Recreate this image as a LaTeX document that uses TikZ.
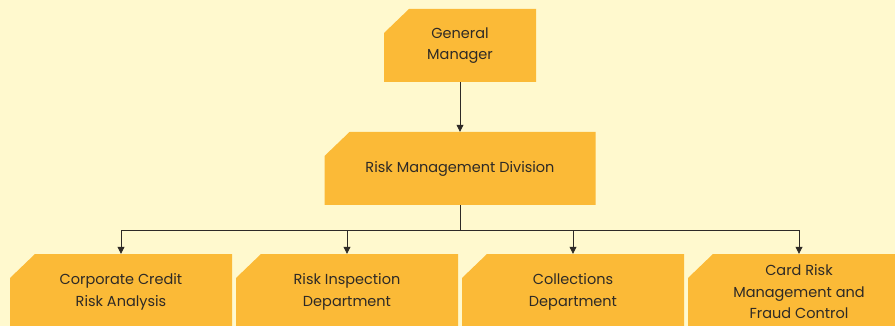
\documentclass[tikz,border=0pt]{standalone}
\usepackage{fontspec}
\setmainfont{Poppins}
\usetikzlibrary{arrows.meta}
\definecolor{bgc}{HTML}{FFF9CE}
\definecolor{boxc}{HTML}{FBBA37}
\definecolor{txtc}{HTML}{2E2A26}
\definecolor{linec}{HTML}{2E2A26}
\tikzset{
  cutbox/.style={minimum width=#1, minimum height=73pt, inner sep=0pt, align=center,
    text=txtc, font=\fontsize{14.5}{21.5}\selectfont,
    path picture={\fill[boxc] ([yshift=-24pt]path picture bounding box.north west)
      -- ([xshift=25pt]path picture bounding box.north west)
      -- (path picture bounding box.north east)
      -- (path picture bounding box.south east)
      -- (path picture bounding box.south west) -- cycle;}},
  conn/.style={draw=linec, line width=0.8pt},
  arr/.style={conn, -{Triangle[length=7pt,width=7pt]}}
}
\begin{document}
\begin{tikzpicture}[x=1pt,y=-1pt]
\useasboundingbox (0,0) rectangle (895,326);
\clip (0,0) rectangle (895,326);
\fill[bgc] (0,0) rectangle (895,326);
\node[cutbox=152pt] (gm) at (460,45.5) {General\\Manager};
\node[cutbox=271pt] (rmd) at (460,168.5) {Risk Management Division};
\node[cutbox=222pt, minimum height=76pt] (c1) at (121,292) {Corporate Credit\\Risk Analysis};
\node[cutbox=222pt, minimum height=76pt] (c2) at (347,292) {Risk Inspection\\Department};
\node[cutbox=222pt, minimum height=76pt] (c3) at (573,292) {Collections\\Department};
\node[cutbox=222pt, minimum height=76pt] (c4) at (799,292) {Card Risk\\Management and\\Fraud Control};
\coordinate (j) at (460,230);
\draw[arr] (gm.south) -- (rmd.north);
\draw[conn] (rmd.south) -- (j);
\draw[arr] (j) -| (c1.north);
\draw[arr] (j) -| (c2.north);
\draw[arr] (j) -| (c3.north);
\draw[arr] (j) -| (c4.north);
\end{tikzpicture}
\end{document}
